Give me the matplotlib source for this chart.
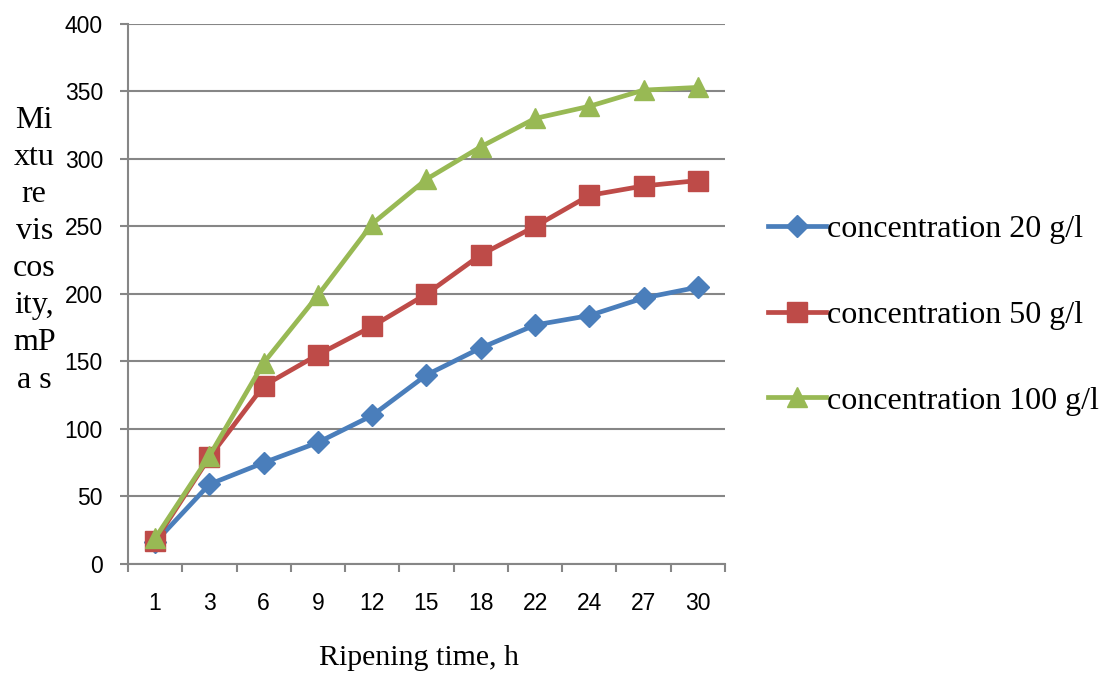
import matplotlib.pyplot as plt
import numpy as np

# datos
hours = ['1', '3', '6', '9', '12', '15', '18', '22', '24', '27', '30']
conc_20 = [16, 59, 75, 90, 110, 140, 160, 177, 184, 197, 205]
conc_50 = [17, 79, 132, 155, 176, 200, 229, 250, 273, 280, 284]
conc_100 = [19, 80, 149, 199, 252, 285, 309, 330, 339, 351, 353]
labels = ['concentration 20 g/l', 'concentration 50 g/l', 'concentration 100 g/l']

grey = '#868686'
serif = 'Liberation Serif'
sans = 'Liberation Sans'

fig = plt.figure(figsize=(11.04, 6.73), dpi=100)
ax = fig.add_axes([0.1159, 0.162, 0.5408, 0.8024])

x = np.arange(len(hours))
ax.plot(x, conc_20, color='#4A7EBB', lw=3.4, marker='D', ms=11, label=labels[0])
ax.plot(x, conc_50, color='#BE4B48', lw=3.4, marker='s', ms=14, label=labels[1])
ax.plot(x, conc_100, color='#98B954', lw=3.4, marker='^', ms=15, label=labels[2])

ax.set_xlim(-0.5, len(hours) - 0.5)
ax.set_ylim(0, 400)
ax.set_yticks(range(0, 401, 50))
ax.grid(axis='y', color=grey, lw=1.5)
ax.set_axisbelow(True)

# ticks del eje x entre categorías
ax.set_xticks(x)
ax.set_xticklabels(hours, fontname=sans, fontsize=16.5)
ax.set_xticks(np.arange(-0.5, len(hours)), minor=True)
ax.tick_params(axis='x', which='major', length=0, pad=20)
ax.tick_params(axis='x', which='minor', length=6, color=grey, width=1.5, direction='out')
ax.tick_params(axis='y', length=6, color=grey, width=1.5, pad=12)
for lab in ax.get_yticklabels():
    lab.set_fontname(sans)
    lab.set_fontsize(16.5)

for side in ['top', 'right']:
    ax.spines[side].set_visible(False)
for side in ['left', 'bottom']:
    ax.spines[side].set_color(grey)
    ax.spines[side].set_linewidth(1.5)

ax.set_xlabel('Ripening time, h', fontname=serif, fontsize=21.5, labelpad=22)
ax.xaxis.label.set_x(0.488)

fig.text(0.031, 0.6285, 'Mi\nxtu\nre\nvis\ncos\nity,\nmP\na s', fontname=serif,
         fontsize=23, ha='center', va='center', linespacing=1.37, multialignment='center')

ax.legend(loc='center left', bbox_to_anchor=(768 / 1104, 0.5319),
          bbox_transform=fig.transFigure, frameon=False,
          prop={'family': serif, 'size': 23}, handlelength=1.8, handletextpad=0.05,
          labelspacing=1.77, borderpad=0, borderaxespad=0)

plt.savefig('out.png', dpi=100)
plt.close()
